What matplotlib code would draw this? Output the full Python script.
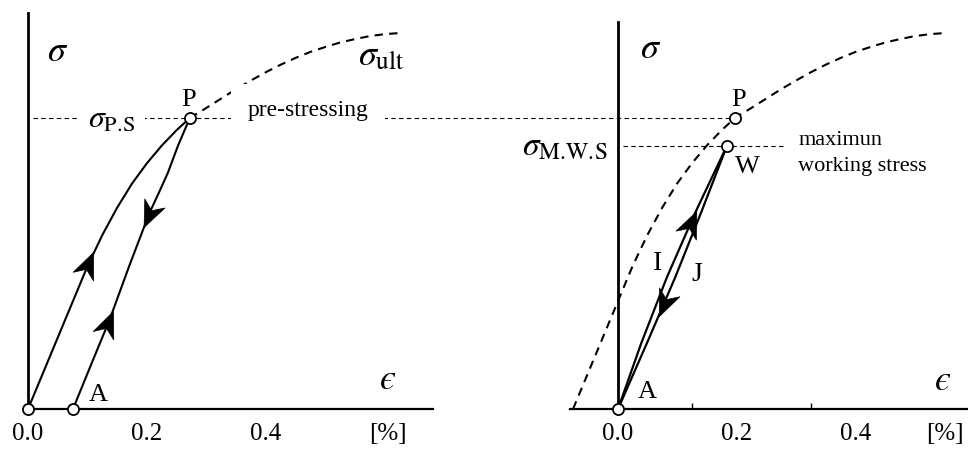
import numpy as np
import matplotlib.pyplot as plt
from matplotlib.path import Path
from matplotlib.markers import MarkerStyle
from matplotlib.transforms import Affine2D

plt.rcParams['font.family'] = ['Liberation Serif', 'DejaVu Serif']
plt.rcParams['mathtext.fontset'] = 'stix'

# virgin stress-strain curve of the tendon (strain in %, stress relative to ultimate)
curve_strain = [0.0, 0.025, 0.05, 0.075, 0.10, 0.125, 0.15, 0.175, 0.20, 0.225, 0.25, 0.272,
                0.30, 0.325, 0.35, 0.375, 0.40, 0.425, 0.45, 0.475, 0.50, 0.525, 0.55, 0.575, 0.60, 0.625]
curve_stress = [0.0, 0.095, 0.19, 0.285, 0.38, 0.463, 0.536, 0.600, 0.654, 0.701, 0.742, 0.774,
                0.801, 0.826, 0.851, 0.874, 0.896, 0.916, 0.934, 0.950, 0.963, 0.975, 0.984, 0.992, 0.997, 1.0]

# pre-stressing point P and unloading back to A
P = (0.272, 0.774)
A_strain = 0.0756
unload_strain = [0.272, 0.252, 0.235, 0.219, 0.204, 0.170, 0.137, 0.106, 0.0756]
unload_stress = [0.774, 0.700, 0.628, 0.572, 0.521, 0.380, 0.237, 0.118, 0.0]

# right panel: strain measured from A, cycling between A and W
W = (0.183, 0.70)
I_strain = [0.0, 0.039, 0.082, 0.1305, 0.183]
I_stress = [0.0, 0.175, 0.35, 0.525, 0.70]
J_strain = [0.183, 0.1402, 0.096, 0.0485, 0.0]
J_stress = [0.70, 0.525, 0.35, 0.175, 0.0]

tick_labels = ['0.0', '0.2', '0.4', '[%]']
left_label_pos = [0.0, 0.2, 0.4, 0.605]
left_tick_pos = [0.2, 0.4]
right_label_pos = [0.0, 0.2, 0.4, 0.55]
right_tick_pos = [0.124, 0.324]

# notched arrowhead pointing along +x
head = Path([(0.5, 0), (-0.5, 0.42), (-0.2, 0), (-0.5, -0.42), (0.5, 0)],
            [Path.MOVETO, Path.LINETO, Path.LINETO, Path.LINETO, Path.CLOSEPOLY])


def arrow_on(ax, xs, ys, y_mid, up=True):
    xs = np.asarray(xs)
    ys = np.asarray(ys)
    order = np.argsort(ys)
    x_mid = np.interp(y_mid, ys[order], xs[order])
    y_back = y_mid - 0.03 if up else y_mid + 0.03
    x_back = np.interp(y_back, ys[order], xs[order])
    p0 = ax.transData.transform((x_back, y_back))
    p1 = ax.transData.transform((x_mid, y_mid))
    ang = np.degrees(np.arctan2(p1[1] - p0[1], p1[0] - p0[0]))
    m = MarkerStyle(head, transform=Affine2D().rotate_deg(ang))
    ax.plot([x_mid], [y_mid], marker=m, ms=19, color='black', mec='black', mew=0.5,
            ls='none', zorder=5)


def setup(ax, xlim, x_end, y_top, label_pos, tick_pos):
    ax.set_xlim(*xlim)
    ax.set_ylim(-0.1064, 1.0878)
    for s in ['top', 'right']:
        ax.spines[s].set_visible(False)
    ax.spines['left'].set_position(('data', 0))
    ax.spines['bottom'].set_position(('data', 0))
    ax.spines['left'].set_bounds(0, y_top)
    ax.spines['bottom'].set_bounds(x_end[0], x_end[1])
    ax.spines['left'].set_linewidth(2.0)
    ax.spines['bottom'].set_linewidth(1.6)
    ax.set_yticks([])
    ax.set_xticks(label_pos)
    ax.set_xticklabels(tick_labels, fontsize=18)
    ax.set_xticks(tick_pos, minor=True)
    ax.tick_params(axis='x', which='major', length=0, pad=10)
    ax.tick_params(axis='x', which='minor', direction='in', length=4, width=1)
    ax.patch.set_alpha(0)


fig = plt.figure(figsize=(9.68, 4.49), dpi=100)
ax1 = fig.add_axes([0, 0, 0.5, 1])
ax2 = fig.add_axes([0.5, 0, 0.5, 1])

setup(ax1, (-0.0471, 0.7664), (0, 0.68), 1.053, left_label_pos, left_tick_pos)
setup(ax2, (-0.2252, 0.588), (-0.08, 0.588), 1.029, right_label_pos, right_tick_pos)

circ = dict(marker='o', ms=8, mfc='white', mec='black', mew=1.3, ls='none', zorder=6, clip_on=False)
dotted = dict(color='black', lw=0.8, dashes=(4, 3), zorder=1)

# ---- left panel ----
cs = np.array(curve_strain)
cy = np.array(curve_stress)
load = cs <= P[0]
ax1.plot(cs[load], cy[load], color='black', lw=1.5)
ax1.plot(cs[cs >= P[0]], cy[cs >= P[0]], color='black', lw=1.5, dashes=(4, 3))
ax1.plot(unload_strain, unload_stress, color='black', lw=1.5)
ax1.plot([0.008, ax1.get_xlim()[1]], [P[1], P[1]], **dotted)

arrow_on(ax1, curve_strain[:12], curve_stress[:12], 0.385, up=True)
arrow_on(ax1, unload_strain, unload_stress, 0.228, up=True)
arrow_on(ax1, unload_strain, unload_stress, 0.515, up=False)

ax1.plot([0, A_strain, P[0]], [0, 0, P[1]], **circ)

ax1.text(0.049, 0.947, r'$\sigma$', fontsize=26, ha='center', va='center')
ax1.text(0.555, 0.936, r'$\sigma_{\mathrm{ult}}$', fontsize=26, ha='left', va='center')
ax1.text(0.269, 0.822, 'P', fontsize=19, ha='center', va='center')
ax1.text(0.101, 0.769, r'$\sigma_{\mathrm{P.\!S}}$', fontsize=23, ha='left', va='center',
         bbox=dict(boxstyle='square,pad=0.3', fc='white', ec='none'), zorder=3)
ax1.text(0.471, 0.793, 'pre-stressing', fontsize=17, ha='center', va='center',
         bbox=dict(boxstyle='square,pad=0.7', fc='white', ec='none'), zorder=3)
ax1.text(0.605, 0.077, r'$ϵ$', fontsize=26, ha='center', va='center')
ax1.text(0.118, 0.037, 'A', fontsize=19, ha='center', va='center')

# ---- right panel ----
ax2.plot(cs - A_strain, cy, color='black', lw=1.5, dashes=(4, 3))
Pr = (P[0] - A_strain, P[1])
ax2.plot([ax2.get_xlim()[0], Pr[0]], [P[1], P[1]], **dotted)
ax2.plot([0.008, 0.277], [W[1], W[1]], **dotted)
ax2.plot(I_strain, I_stress, color='black', lw=1.6)
ax2.plot(J_strain, J_stress, color='black', lw=1.6)

arrow_on(ax2, I_strain, I_stress, 0.495, up=True)
arrow_on(ax2, J_strain, J_stress, 0.278, up=False)

ax2.plot([0, W[0], Pr[0]], [0, W[1], Pr[1]], **circ)

ax2.text(0.054, 0.955, r'$\sigma$', fontsize=26, ha='center', va='center')
ax2.text(0.202, 0.822, 'P', fontsize=19, ha='center', va='center')
ax2.text(-0.018, 0.695, r'$\sigma_{\mathrm{M.\!W.\!S}}$', fontsize=24, ha='right', va='center')
ax2.text(0.3025, 0.715, 'maximun', fontsize=16, ha='left', va='center')
ax2.text(0.3025, 0.644, 'working stress', fontsize=16, ha='left', va='center')
ax2.text(0.218, 0.644, 'W', fontsize=19, ha='center', va='center')
ax2.text(0.067, 0.386, 'I', fontsize=20, ha='center', va='center')
ax2.text(0.133, 0.359, 'J', fontsize=20, ha='center', va='center')
ax2.text(0.049, 0.045, 'A', fontsize=19, ha='center', va='center')
ax2.text(0.546, 0.072, r'$ϵ$', fontsize=26, ha='center', va='center')

fig.savefig('out.png', dpi=100)
